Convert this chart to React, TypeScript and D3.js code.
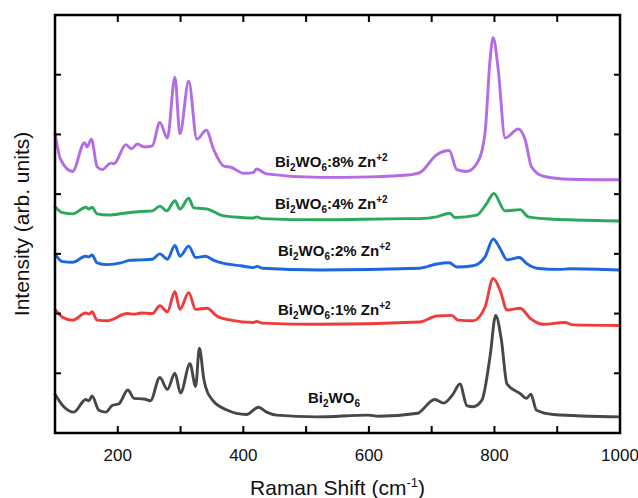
import React from "react";
import * as d3 from "d3";

// Raman shift (cm-1), intensity (arb. units, stacked offsets included)
const zn8: [number, number][] = [
  [100, 5.02], [109, 4.58], [128, 4.38], [147, 4.86], [151, 4.79], [158, 4.92], [167, 4.46], [175, 4.41],
  [189, 4.52], [194, 4.51], [213, 4.83], [222, 4.76], [231, 4.84], [242, 4.79], [255, 4.81], [267, 5.2],
  [279, 4.94], [291, 5.96], [299, 5.01], [313, 5.89], [326, 4.92], [341, 5.07], [353, 4.74], [369, 4.47],
  [380, 4.45], [401, 4.35], [416, 4.36], [421, 4.42], [437, 4.34], [522, 4.28], [602, 4.29], [662, 4.32],
  [681, 4.36], [708, 4.66], [728, 4.73], [740, 4.41], [756, 4.38], [774, 4.55], [785, 5.02], [793, 6.25],
  [798, 6.62], [806, 6.09], [817, 4.94], [838, 5.09], [849, 4.91], [859, 4.46], [878, 4.3], [920, 4.25],
  [1000, 4.24],
];
const zn4: [number, number][] = [
  [100, 3.79], [112, 3.69], [128, 3.67], [149, 3.78], [154, 3.75], [159, 3.78], [167, 3.67], [186, 3.65],
  [210, 3.68], [237, 3.71], [255, 3.72], [267, 3.8], [278, 3.72], [291, 3.89], [299, 3.75], [313, 3.93],
  [321, 3.77], [343, 3.75], [364, 3.65], [396, 3.61], [416, 3.6], [421, 3.62], [430, 3.59], [522, 3.57],
  [662, 3.59], [681, 3.59], [708, 3.62], [729, 3.68], [737, 3.61], [772, 3.65], [788, 3.85], [799, 4.01],
  [817, 3.72], [841, 3.74], [854, 3.62], [894, 3.58], [920, 3.57], [1000, 3.55],
];
const zn2: [number, number][] = [
  [100, 3.0], [112, 2.87], [128, 2.86], [149, 2.96], [154, 2.95], [159, 2.98], [167, 2.85], [183, 2.82],
  [205, 2.85], [218, 2.89], [237, 2.9], [255, 2.91], [267, 3.0], [279, 2.91], [291, 3.14], [299, 2.96],
  [313, 3.13], [324, 2.94], [340, 2.96], [353, 2.89], [369, 2.84], [396, 2.8], [416, 2.77], [422, 2.79],
  [430, 2.76], [522, 2.73], [681, 2.76], [708, 2.83], [728, 2.85], [740, 2.78], [766, 2.8], [785, 2.95],
  [798, 3.25], [809, 3.09], [820, 2.9], [840, 2.94], [851, 2.84], [867, 2.76], [904, 2.74], [920, 2.75],
  [1000, 2.73],
];
const zn1: [number, number][] = [
  [100, 2.07], [112, 1.94], [128, 1.89], [149, 2.01], [154, 1.99], [159, 2.03], [167, 1.89], [183, 1.88],
  [215, 2.0], [226, 1.99], [237, 2.01], [255, 2.0], [267, 2.13], [279, 2.03], [291, 2.37], [299, 2.07],
  [313, 2.35], [324, 2.07], [342, 2.09], [359, 1.95], [380, 1.89], [416, 1.85], [421, 1.87], [430, 1.84],
  [522, 1.82], [681, 1.86], [708, 1.96], [732, 1.97], [742, 1.89], [766, 1.88], [785, 2.11], [798, 2.59],
  [809, 2.39], [820, 2.06], [841, 2.09], [857, 1.92], [878, 1.82], [912, 1.85], [926, 1.81], [1000, 1.8],
];
const pure: [number, number][] = [
  [100, 0.65], [114, 0.44], [130, 0.35], [149, 0.56], [154, 0.54], [159, 0.62], [170, 0.38], [181, 0.35],
  [191, 0.46], [202, 0.49], [216, 0.72], [226, 0.58], [242, 0.57], [252, 0.54], [267, 0.93], [279, 0.73],
  [291, 1.0], [300, 0.67], [315, 1.16], [324, 0.78], [330, 1.42], [337, 0.91], [340, 0.77], [351, 0.55],
  [373, 0.39], [405, 0.31], [424, 0.43], [437, 0.35], [453, 0.3], [517, 0.27], [599, 0.3], [615, 0.28],
  [678, 0.33], [681, 0.35], [705, 0.56], [719, 0.5], [734, 0.65], [745, 0.82], [756, 0.46], [766, 0.44],
  [780, 0.55], [793, 1.28], [802, 1.97], [811, 1.56], [820, 0.82], [841, 0.66], [851, 0.58], [858, 0.65],
  [867, 0.38], [894, 0.31], [1000, 0.27],
];

const seriesData = [zn8, zn4, zn2, zn1, pure];
const seriesColors = ["#B36BE6", "#2BA85C", "#1C66E0", "#F23A3A", "#474747"];
const seriesLabels = ["8%", "4%", "2%", "1%", ""];

const xTicks = [100, 200, 300, 400, 500, 600, 700, 800, 900, 1000];
const xTickLabels = [200, 400, 600, 800, 1000];
const yTicks = [1, 2, 3, 4, 5, 6];

const W = 638;
const H = 498;
const M = { left: 55, right: 620, top: 15, bottom: 433 };
const FONT = "'Liberation Sans', Arial, Helvetica, sans-serif";

function SeriesLabel({ x, y, pct }: { x: number; y: number; pct: string }) {
  return (
    <text x={x} y={y} fontFamily={FONT} fontWeight="bold" fontSize={15} fill="#111">
      Bi<tspan dy={4} fontSize={10}>2</tspan>
      <tspan dy={-4}>WO</tspan>
      <tspan dy={4} fontSize={10}>6</tspan>
      {pct ? (
        <>
          <tspan dy={-4}>:{pct} Zn</tspan>
          <tspan dy={-6} fontSize={10}>+2</tspan>
        </>
      ) : null}
    </text>
  );
}

export default function App() {
  const x = d3.scaleLinear().domain([100, 1000]).range([M.left, M.right]);
  const y = d3.scaleLinear().domain([0, 7]).range([M.bottom, M.top]);
  const line = d3
    .line<[number, number]>()
    .x((d) => x(d[0]))
    .y((d) => y(d[1]))
    .curve(d3.curveMonotoneX);

  const labelPos = [
    { x: 275, y: 167 },
    { x: 275, y: 209 },
    { x: 278, y: 256 },
    { x: 278, y: 315 },
    { x: 308, y: 403 },
  ];

  return (
    <svg
      width={W}
      height={H}
      style={{ position: "absolute", left: 0, top: 0, background: "#fff" }}
    >
      <rect x={0} y={0} width={W} height={H} fill="#fff" />
      <defs>
        <clipPath id="plotclip">
          <rect x={M.left - 2} y={M.top} width={M.right - M.left + 2} height={M.bottom - M.top} />
        </clipPath>
      </defs>
      <g clipPath="url(#plotclip)">
        {seriesData.map((d, i) => (
          <path
            key={i}
            d={line(d) || ""}
            fill="none"
            stroke={seriesColors[i]}
            strokeWidth={2.9}
            strokeLinejoin="round"
            strokeLinecap="round"
          />
        ))}
      </g>
      {seriesLabels.map((p, i) => (
        <SeriesLabel key={i} x={labelPos[i].x} y={labelPos[i].y} pct={p} />
      ))}
      {/* frame */}
      <rect
        x={M.left}
        y={M.top}
        width={M.right - M.left}
        height={M.bottom - M.top}
        fill="none"
        stroke="#000"
        strokeWidth={2.5}
      />
      {xTicks.map((t) => (
        <g key={"xt" + t}>
          <line x1={x(t)} x2={x(t)} y1={M.bottom} y2={M.bottom - 7} stroke="#000" strokeWidth={2} />
          <line x1={x(t)} x2={x(t)} y1={M.top} y2={M.top + 7} stroke="#000" strokeWidth={2} />
        </g>
      ))}
      {yTicks.map((t) => (
        <g key={"yt" + t}>
          <line x1={M.left} x2={M.left + 6} y1={y(t)} y2={y(t)} stroke="#000" strokeWidth={2} />
          <line x1={M.right} x2={M.right - 6} y1={y(t)} y2={y(t)} stroke="#000" strokeWidth={2} />
        </g>
      ))}
      {xTickLabels.map((t) => (
        <text
          key={"xl" + t}
          x={x(t)}
          y={461}
          textAnchor="middle"
          fontFamily={FONT}
          fontSize={17}
          fill="#111"
        >
          {t}
        </text>
      ))}
      <text
        x={(M.left + M.right) / 2}
        y={495}
        textAnchor="middle"
        fontFamily={FONT}
        fontSize={21}
        fill="#111"
      >
        Raman Shift (cm<tspan dy={-8} fontSize={13}>-1</tspan>
        <tspan dy={8}>)</tspan>
      </text>
      <text
        transform={`translate(29, ${(M.top + M.bottom) / 2}) rotate(-90)`}
        textAnchor="middle"
        fontFamily={FONT}
        fontSize={21}
        fill="#111"
      >
        Intensity (arb. units)
      </text>
    </svg>
  );
}
